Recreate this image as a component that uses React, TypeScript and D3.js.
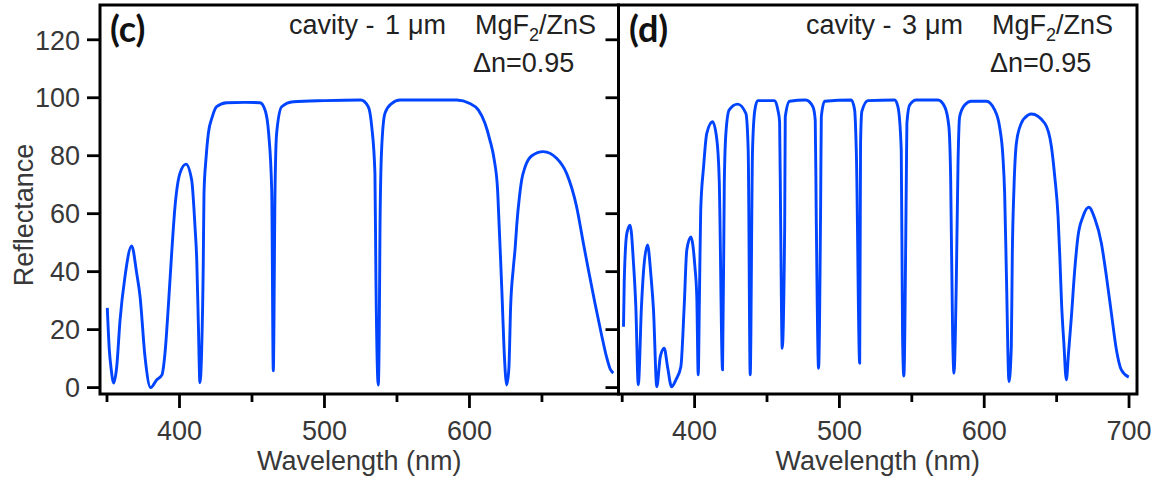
import React from "react";
import * as d3 from "d3";

// ---- data ----
const lambdaC = [350.2,351.6,352.8,354.6,356.7,359.0,362.4,367.0,370.5,372.8,376.2,380.1,384.3,387.9,390.0,392.3,394.6,396.9,400.3,404.5,408.4,410.7,411.9,413.0,414.1,415.3,416.4,416.9,418.3,419.9,422.6,425.6,432.6,445,455.5,459.0,461.5,463.6,464.7,465.9,467.0,470.5,478.5,500,525,530.2,532.6,534.8,535.5,537.1,537.8,538.3,539.4,541.7,546.3,552.1,591.2,600.3,606.1,610.7,614.1,617.1,619.4,620.6,621.5,622.6,623.8,625.7,627.2,628.4,630.2,631.5,632.6,634.5,636.0,638.3,643.0,650.9,660.1,667.0,673.9,678.5,681.9,686.6,691.2,694.6,697.0,699.2];
const reflC = [27.5,13,6.7,1.6,7.2,23.3,38.3,48.9,39.4,31.4,10.7,0,2.7,4.4,11.9,28,46.3,62.4,73.9,77.1,71.6,55.5,44,22.2,1.7,13,42.9,67,79.1,87.7,93.4,96.9,98.3,98.4,98.3,95.8,87.7,68.2,5.8,68.2,87.7,96.9,98.6,99,99.2,96.9,90,73.9,37,0.9,20,55.5,82,94.6,98,99.2,99.2,98,95.8,91.2,85.4,78.5,68.2,54.4,44,30.2,14.1,0.9,6.7,28,41,48,56,66,71.6,76,80,81.4,79.1,73.9,62.4,50,41,29,18,10.5,6.5,5];

const lambdaD = [350.9,351.4,353.2,355.5,357.8,359.4,361.1,363.3,364.7,367.5,369.8,371.6,373.9,376.3,379.0,381.3,384.1,387.0,390.5,392.8,394.6,397.4,400.2,401.5,402.5,403.3,404.2,406.2,408.4,412.4,415.4,417.0,419.3,420.5,421.6,423.9,429.7,435.4,437.0,438.4,440.0,441.6,443.5,455.2,457.5,458.7,459.4,460.5,462.2,462.6,465.6,476.6,481.7,483.3,484.0,485.6,487.0,487.5,489.8,508.2,510.5,511.7,514.0,514.6,515.5,519.7,538.1,540.4,542.7,543.6,544.5,546.2,546.6,548.5,553.1,568.0,572.7,575.6,576.8,578.2,579.1,580.7,581.9,583.0,586.5,591.1,601.5,607.2,610.6,612.9,614.1,615.3,617.1,618.7,619.4,620.5,622.2,625.6,630.2,632.6,641.8,646.4,648.7,651.0,652.2,653.4,655.0,656.7,658.2,660.2,662.5,664.7,668.2,672.2,676.3,680.9,684.4,687.8,691.3,694.7,699.8];
const reflD = [21,36.6,53.2,56,42.9,28,1,28,40,49.2,38.9,26.8,0.3,10.7,13.6,7.2,0.3,2.6,7.2,28,47.5,52,41.7,31.4,4.4,30,61,76.2,87.7,91.7,85.4,71.6,6.1,70.5,87.7,95.8,97.8,94.6,82,4.4,82,95.8,99,99,95.8,91.7,57.8,13.6,55.5,93.4,98.8,99.2,96.9,92.3,59,6.7,61.3,93.4,98.8,99.2,95.8,80.8,8.4,84.3,95.3,99,99.2,96.9,82,17.6,4,71.6,91.2,97.5,99.2,99.2,96.9,90,72.8,17.6,5,36,77.4,93.4,97.5,98.8,98.8,95.8,90,79.7,67,39.4,2.1,14.1,46.3,68.2,84.3,91.2,94,94.4,91.2,83.1,72.8,59,45.2,29.1,15.3,2.7,11.9,24.5,40.6,52,59,62.2,58.4,49.8,38.3,25.7,13,6.1,3.6];

const yTicks = [0, 20, 40, 60, 80, 100, 120];
const xMajorC = [400, 500, 600];
const xMinorC = [350, 450, 550, 650];
const xMajorD = [400, 500, 600, 700];
const xMinorD = [350, 450, 550, 650];

const W = 1159, H = 481;
const TOP = 5, BOTTOM = 394;
const FONT = "'Liberation Sans', Arial, sans-serif";
const TXT = "#383838";
const BLUE = "#0044ff";

const y = d3.scaleLinear().domain([-2.21, 132.0]).range([BOTTOM, TOP]);

function Panel({ x0, x1, domain, lam, refl, major, minor, tag, cavity, showYLabels, annX, tagX }) {
  const x = d3.scaleLinear().domain(domain).range([x0, x1]);
  const pts = lam.map((l, i) => [l, refl[i]]);
  const line = d3.line().x(d => x(d[0])).y(d => y(d[1])).curve(d3.curveMonotoneX);
  const cx = (x0 + x1) / 2;
  return (
    <g>
      <path d={line(pts)} fill="none" stroke={BLUE} strokeWidth={2.9} strokeLinejoin="round" />
      {yTicks.map(t => (
        <g key={"y" + t}>
          <line x1={x0 - 13} x2={x0} y1={y(t)} y2={y(t)} stroke="#000" strokeWidth={2.8} />
          {showYLabels && (
            <text x={x0 - 20} y={y(t)} dy="0.36em" textAnchor="end" fontFamily={FONT} fontSize={27} fill={TXT}>{t}</text>
          )}
        </g>
      ))}
      {major.map(t => (
        <g key={"M" + t}>
          <line x1={x(t)} x2={x(t)} y1={BOTTOM} y2={BOTTOM + 14} stroke="#000" strokeWidth={2.8} />
          <text x={x(t)} y={440} textAnchor="middle" fontFamily={FONT} fontSize={27} fill={TXT}>{t}</text>
        </g>
      ))}
      {minor.map(t => (
        <line key={"m" + t} x1={x(t)} x2={x(t)} y1={BOTTOM} y2={BOTTOM + 8} stroke="#000" strokeWidth={2.8} />
      ))}
      <rect x={x0} y={TOP} width={x1 - x0} height={BOTTOM - TOP} fill="none" stroke="#000" strokeWidth={3} />
      <text x={cx} y={470} textAnchor="middle" fontFamily={FONT} fontSize={27} fill={TXT}>Wavelength (nm)</text>
      <text x={tagX} y={42} fontFamily="Lato, 'Open Sans', sans-serif" fontWeight="bold" fontSize={36} fill="#111">{tag}</text>
      <text y={34} fontFamily={FONT} fontSize={27} fill="#222">
        <tspan x={annX.cav}>cavity -</tspan>
        <tspan x={annX.cav + 96}>{cavity}</tspan>
        <tspan x={annX.cav + 119}>μm</tspan>
        <tspan x={annX.mg}>MgF</tspan>
        <tspan fontSize={18} dy={7}>2</tspan>
        <tspan dy={-7}>/ZnS</tspan>
      </text>
      <text x={annX.mg - 2} y={72} fontFamily={FONT} fontSize={27} fill="#222">Δn=0.95</text>
    </g>
  );
}

export default function App() {
  return (
    <svg width={W} height={H} style={{ position: "absolute", left: 0, top: 0, background: "#fff" }}>
      <rect x={0} y={0} width={W} height={H} fill="#fff" />
      <Panel x0={100} x1={618.5} domain={[345.17, 702.8]} lam={lambdaC} refl={reflC}
        major={xMajorC} minor={xMinorC} tag="(c)" cavity="1" showYLabels={true}
        annX={{ cav: 289, mg: 475 }} tagX={110} />
      <Panel x0={618.5} x1={1137} domain={[347.44, 705.5]} lam={lambdaD} refl={reflD}
        major={xMajorD} minor={xMinorD} tag="(d)" cavity="3" showYLabels={false}
        annX={{ cav: 806, mg: 992 }} tagX={629} />
      <text transform="translate(33,215) rotate(-90)" textAnchor="middle" fontFamily={FONT} fontSize={27} fill={TXT}>Reflectance</text>
    </svg>
  );
}
